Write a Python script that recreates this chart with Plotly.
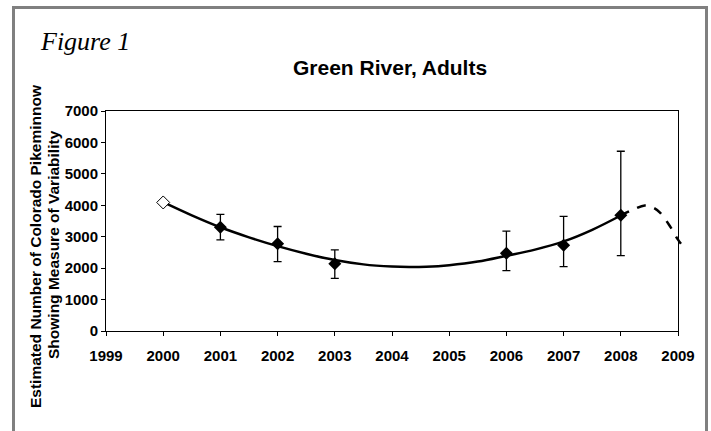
import plotly.graph_objects as go

# ---- data ----
years = [2000, 2001, 2002, 2003, 2006, 2007, 2008]
estimates = [4090, 3300, 2780, 2140, 2470, 2725, 3680]
upper = [None, 3710, 3325, 2580, 3180, 3650, 5720]
lower = [None, 2900, 2205, 1675, 1920, 2050, 2400]

trend_x = [2000, 2000.5, 2001, 2001.5, 2002, 2002.5, 2003, 2003.5, 2004, 2004.3,
           2004.6, 2005, 2005.5, 2006, 2006.5, 2007, 2007.5, 2008]
trend_y = [4100, 3680, 3300, 2980, 2700, 2460, 2260, 2120, 2050, 2035,
           2045, 2095, 2210, 2395, 2590, 2850, 3220, 3675]

forecast_x = [2008, 2008.22, 2008.42, 2008.56, 2008.69, 2008.86, 2009, 2009.13]
forecast_y = [3675, 3866, 3994, 3930, 3760, 3332, 2907, 2588]

x_ticks = list(range(1999, 2010))
y_ticks = list(range(0, 7001, 1000))

# ---- layout geometry ----
W, H = 711, 431
ML, MR, MT, MB = 106, 20, 111, 100
PW = W - ML - MR
PH = H - MT - MB
AXIS_RIGHT = 678
xdom_end = (AXIS_RIGHT - ML) / PW
x2_end = 1999 + 10 / xdom_end


def px(x):
    return (x - ML) / PW


def py(y):
    return (H - MB - y) / PH


FONT = "Arial, Liberation Sans, sans-serif"

fig = go.Figure()

filled_x = years[1:]
filled_y = estimates[1:]
err_plus = [u - e for u, e in zip(upper[1:], filled_y)]
err_minus = [e - l for e, l in zip(filled_y, lower[1:])]

fig.add_trace(go.Scatter(
    x=trend_x, y=trend_y, mode="lines", line=dict(color="black", width=2.5, shape="spline"),
    hoverinfo="skip", showlegend=False))

fig.add_trace(go.Scatter(
    x=forecast_x, y=forecast_y, mode="lines", xaxis="x2", yaxis="y2",
    line=dict(color="black", width=2.5, dash="dash", shape="spline"),
    hoverinfo="skip", showlegend=False))

fig.add_trace(go.Scatter(
    x=filled_x, y=filled_y, mode="markers",
    marker=dict(symbol="diamond", size=10, color="black"),
    error_y=dict(type="data", symmetric=False, array=err_plus, arrayminus=err_minus,
                 color="black", thickness=1.3, width=4),
    showlegend=False))

fig.add_trace(go.Scatter(
    x=[years[0]], y=[estimates[0]], mode="markers",
    marker=dict(symbol="diamond", size=10, color="white", line=dict(color="black", width=1)),
    showlegend=False))

axis_common = dict(showgrid=False, zeroline=False, showline=True, linecolor="black",
                   linewidth=1, mirror=True, ticks="outside", ticklen=4, tickcolor="black",
                   automargin=False,
                   tickfont=dict(family=FONT, size=15, color="black", weight="bold"))

fig.update_layout(
    width=W, height=H, autosize=False,
    margin=dict(l=ML, r=MR, t=MT, b=MB, pad=0),
    paper_bgcolor="white", plot_bgcolor="rgba(0,0,0,0)",
    xaxis=dict(range=[1999, 2009], domain=[0, xdom_end], tickvals=x_ticks,
               ticktext=[str(t) for t in x_ticks], anchor="y", ticklabelstandoff=7,
               **axis_common),
    yaxis=dict(range=[0, 7000], domain=[0, 1], tickvals=y_ticks,
               ticktext=[str(t) for t in y_ticks], anchor="x", **axis_common),
    xaxis2=dict(range=[1999, x2_end], domain=[0, 1], visible=False, anchor="y2", automargin=False),
    yaxis2=dict(range=[0, 7000], domain=[0, 1], visible=False, anchor="x2", automargin=False),
    font=dict(family=FONT, color="black"),
    annotations=[
        dict(text="<b>Green River, Adults</b>", xref="paper", yref="paper",
             x=px(390), y=py(68), xanchor="center", yanchor="middle", showarrow=False,
             font=dict(family=FONT, size=21, color="black")),
        dict(text="<i>Figure 1</i>", xref="paper", yref="paper",
             x=px(38), y=py(42), xanchor="left", yanchor="middle", showarrow=False,
             font=dict(family="Liberation Serif, serif", size=26, color="black")),
        dict(text="<b>Estimated Number of Colorado Pikeminnow</b>",
             xref="paper", yref="paper", x=px(35), y=py(246), xanchor="center", yanchor="middle",
             textangle=-90, showarrow=False,
             font=dict(family=FONT, size=15.5, color="black")),
        dict(text="<b>Showing Measure of Variability</b>",
             xref="paper", yref="paper", x=px(53), y=py(245), xanchor="center", yanchor="middle",
             textangle=-90, showarrow=False,
             font=dict(family=FONT, size=15.5, color="black")),
    ],
    shapes=[
        dict(type="rect", xref="paper", yref="paper",
             x0=px(13.5), x1=px(706.5), y0=py(480), y1=py(7.5),
             line=dict(color="#808080", width=3), fillcolor="rgba(0,0,0,0)", layer="below"),
    ],
)

fig.write_html(
    "out.html",
    config={"responsive": False, "displayModeBar": False},
    default_width="711px", default_height="431px",
    post_script="document.body.style.margin='0px';document.body.style.overflow='hidden';",
)
